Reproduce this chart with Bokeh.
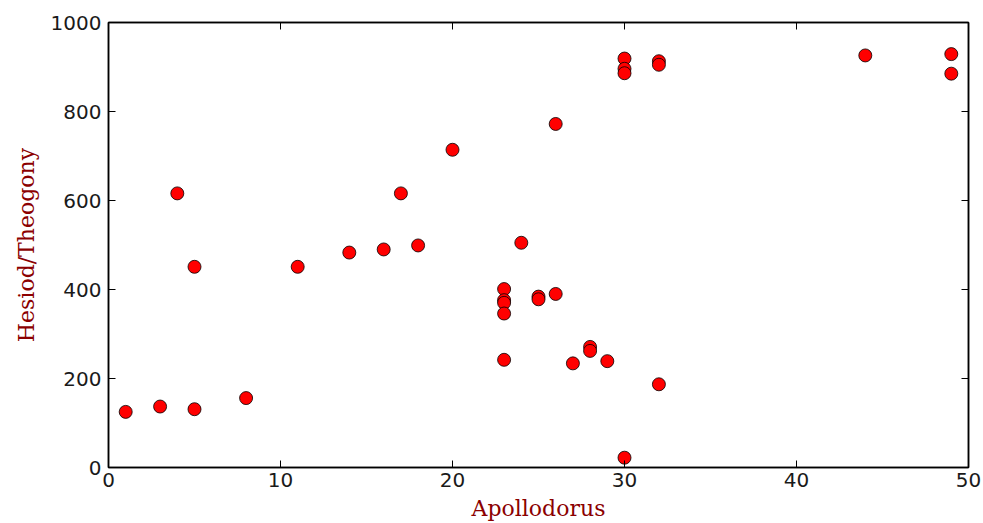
from bokeh.plotting import figure
from bokeh.models import LinearAxis, FixedTicker, Range1d, CustomLabelingPolicy
from bokeh.embed import file_html
from bokeh.resources import INLINE

# Data
apollodorus = [1, 3, 5, 8, 4, 5, 11, 14, 16, 18, 17, 20, 23, 23, 23, 23, 23, 24,
               25, 25, 26, 26, 27, 28, 28, 29, 30, 30, 30, 30, 32, 32, 32, 44, 49, 49]
theogony = [125, 137, 131, 156, 616, 451, 451, 483, 490, 499, 616, 714, 401, 376,
            370, 346, 242, 505, 384, 378, 390, 772, 234, 271, 262, 239, 22, 919,
            896, 886, 913, 905, 187, 926, 929, 885]
x_ticks = [0, 10, 20, 30, 40, 50]
y_ticks = [0, 200, 400, 600, 800, 1000]

p = figure(width=983, height=523, x_range=Range1d(0, 50), y_range=Range1d(0, 1000),
           output_backend="svg", toolbar_location=None,
           min_border_left=108, min_border_right=15, min_border_top=22, min_border_bottom=56,
           x_axis_label="Apollodorus", y_axis_label="Hesiod/Theogony")

p.background_fill_color = "white"
p.border_fill_color = "white"
p.xgrid.visible = False
p.ygrid.visible = False
p.outline_line_color = "black"
p.outline_line_width = 1.5

p.scatter(apollodorus, theogony, size=13, fill_color="#ff0000",
          line_color="black", line_width=0.8)

no_labels = CustomLabelingPolicy(
    code="for (let i = 0; i < indices.size; i++) { indices.unset(i) } return indices")

def style_axis(ax, ticks):
    ax.ticker = FixedTicker(ticks=ticks)
    ax.major_tick_in = 7
    ax.major_tick_out = 0
    ax.minor_tick_line_color = None
    ax.major_tick_line_color = "black"
    ax.major_tick_line_width = 1
    ax.axis_line_color = "black"
    ax.axis_line_width = 1.5
    ax.major_label_text_font = "DejaVu Sans"
    ax.major_label_text_font_size = "20px"
    ax.major_label_text_color = "#1a1a1a"
    ax.axis_label_text_font = "DejaVu Serif"
    ax.axis_label_text_font_size = "22px"
    ax.axis_label_text_font_style = "normal"
    ax.axis_label_text_color = "#8b0000"

style_axis(p.xaxis[0], x_ticks)
style_axis(p.yaxis[0], y_ticks)
p.xaxis[0].major_label_standoff = 5
p.xaxis[0].axis_label_standoff = 6
p.yaxis[0].major_label_standoff = 7
p.yaxis[0].axis_label_standoff = 9

top = LinearAxis()
style_axis(top, x_ticks)
top.major_label_overrides = {t: "" for t in x_ticks}
top.major_label_policy = no_labels
top.major_label_standoff = 0
p.add_layout(top, "above")
right = LinearAxis()
style_axis(right, y_ticks)
right.major_label_overrides = {t: "" for t in y_ticks}
right.major_label_policy = no_labels
right.major_label_standoff = 0
p.add_layout(right, "right")

open("out.html", "w").write(file_html(p, INLINE))
